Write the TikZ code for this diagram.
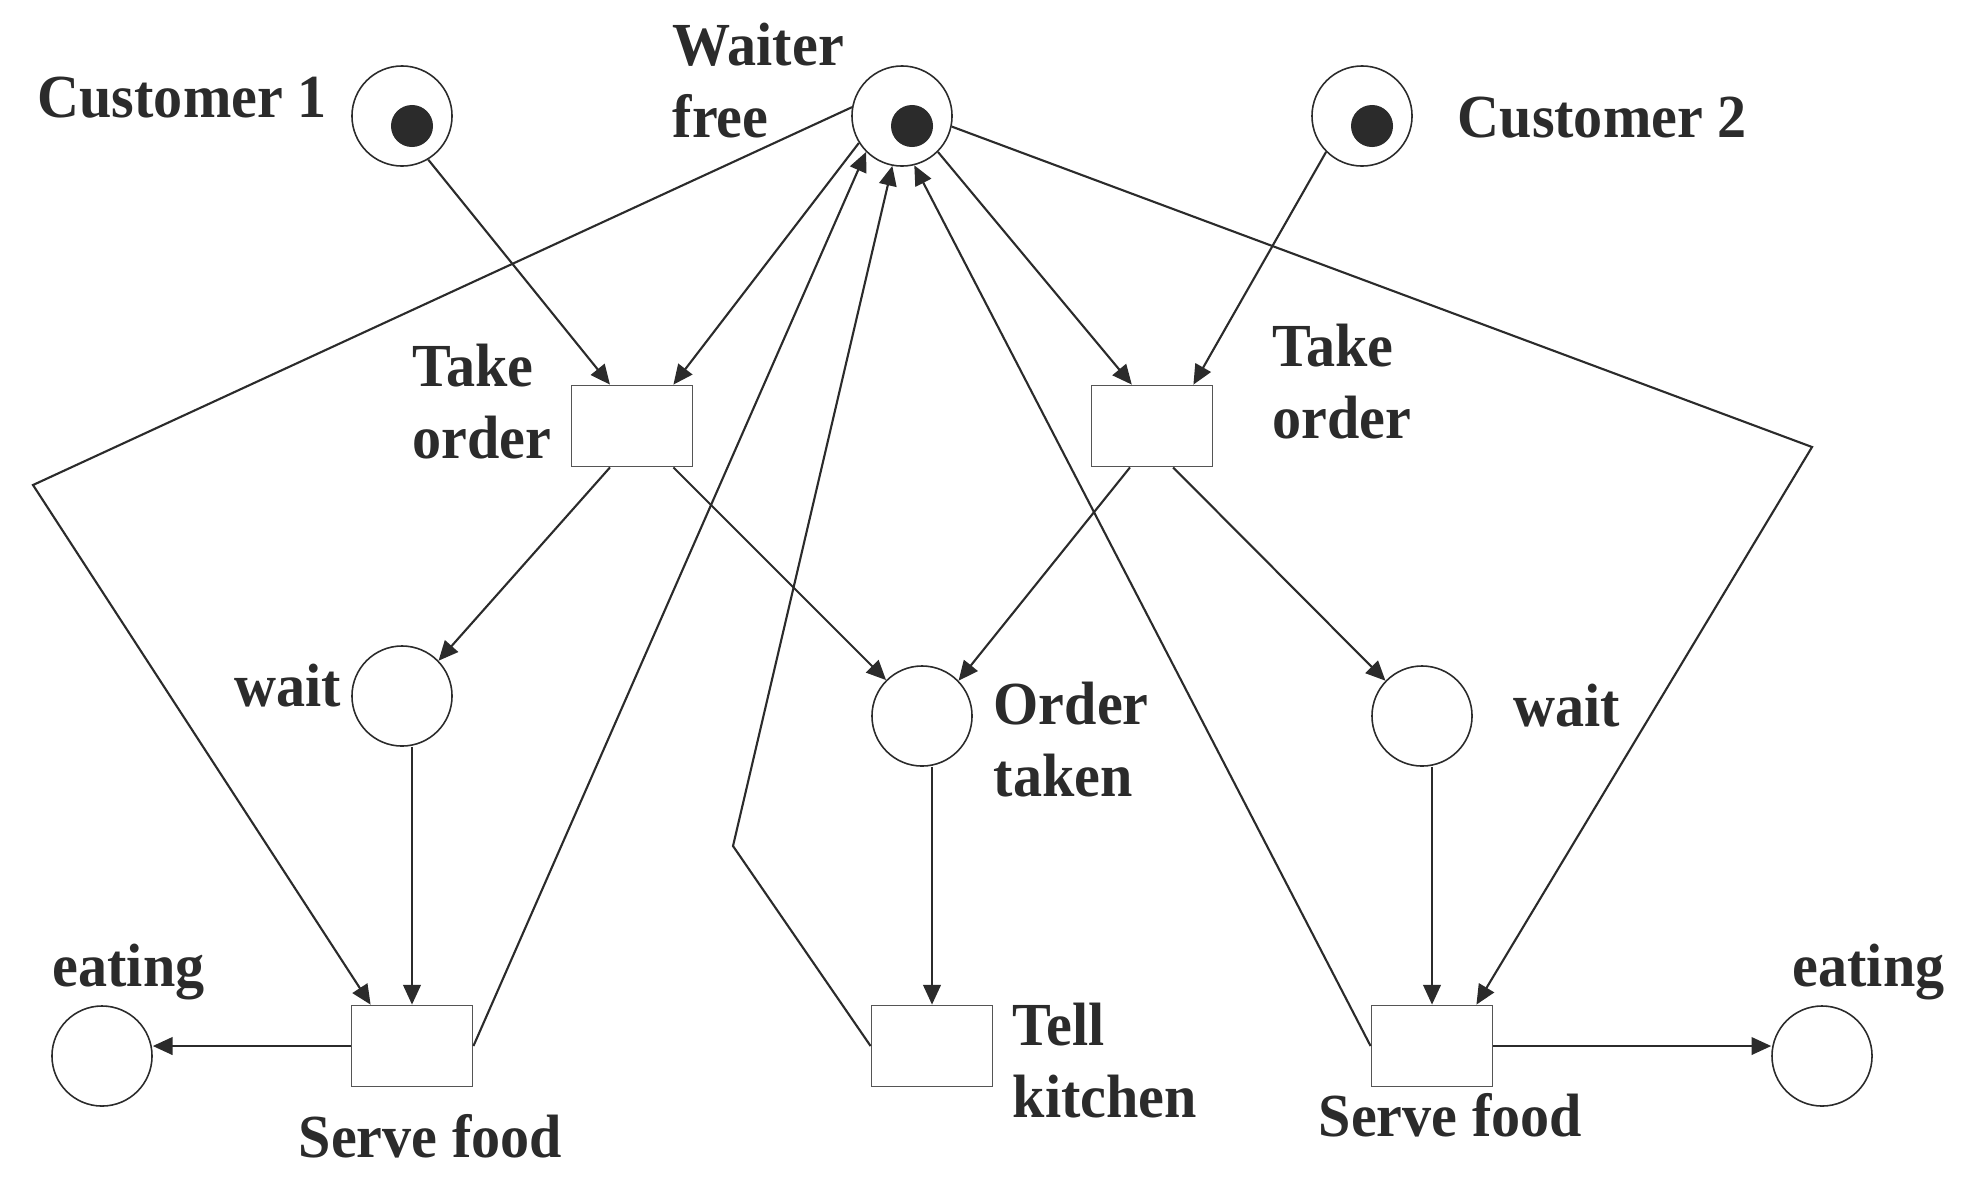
\documentclass[tikz,border=0pt]{standalone}
\usepackage{fontspec}
\setmainfont{Liberation Serif}[FakeStretch=0.95]
\usetikzlibrary{arrows.meta}
\definecolor{ink}{RGB}{43,43,43}
\definecolor{boxline}{RGB}{85,85,85}
\begin{document}
\begin{tikzpicture}[x=0.01cm,y=-0.01cm,
		place/.style={draw=ink,line width=0.45pt,circle,minimum size=1cm,inner sep=0pt},
		token/.style={fill=ink,circle,minimum size=0.42cm,inner sep=0pt},
		transition/.style={draw=boxline,line width=0.5pt,rectangle,minimum width=1.21cm,minimum height=0.81cm,inner sep=0pt},
		lbl/.style={inner sep=0pt,anchor=base west,align=left,text=ink,font=\fontsize{17.4}{20.2}\selectfont\bfseries},
		arr/.style={draw=ink,line width=0.6pt,-{Stealth[inset=0pt,length=5.6pt,width=5pt]}},
		wire/.style={draw=ink,line width=0.5pt}]
	\useasboundingbox (0,0) rectangle (1980,1178);
	% places and tokens
	\node[place] (cust1) at (402,116) {};
	\node[place] (waiter) at (902,116) {};
	\node[place] (cust2) at (1362,116) {};
	\node[token] (tok1) at (412,126) {};
	\node[token] (tokw) at (912,126) {};
	\node[token] (tok2) at (1372,126) {};
	\node[place] (wait1) at (402,696) {};
	\node[place] (taken) at (922,716) {};
	\node[place] (wait2) at (1422,716) {};
	\node[place] (eat1) at (102,1056) {};
	\node[place] (eat2) at (1822,1056) {};
	% transitions
	\node[transition] (take1) at (632,426) {};
	\node[transition] (take2) at (1152,426) {};
	\node[transition] (serve1) at (412,1046) {};
	\node[transition] (tell) at (932,1046) {};
	\node[transition] (serve2) at (1432,1046) {};
	% labels (base = last line)
	\node[lbl] (lcust1) at (37,117) {Customer 1};
	\node[lbl] (lwaiter) at (672,137) {Waiter\\free};
	\node[lbl] (lcust2) at (1457,137) {Customer 2};
	\node[lbl] (ltake1) at (412,458) {Take\\order};
	\node[lbl] (ltake2) at (1272,438) {Take\\order};
	\node[lbl] (lwait1) at (234,706) {wait};
	\node[lbl] (ltaken) at (993,796) {Order\\taken};
	\node[lbl] (lwait2) at (1513,726) {wait};
	\node[lbl] (leat1) at (52,986) {eating};
	\node[lbl] (leat2) at (1792,986) {eating};
	\node[lbl] (lserve1) at (298,1157) {Serve food};
	\node[lbl] (ltell) at (1012,1117) {Tell\\kitchen};
	\node[lbl] (lserve2) at (1318,1136) {Serve food};
	% bends
	\coordinate (bendL) at (33,485);
	\coordinate (bendR) at (1812,447);
	\coordinate (bendK) at (733,846);
	% arcs
	\draw[arr] (cust1.-59) -- (take1.118);
	\draw[arr] (waiter.212) -- (take1.45);
	\draw[arr] (waiter.-45) -- (take2.116);
	\draw[arr] (cust2.-135) -- (take2.45);
	\draw[arr] (take1.-118) -- (wait1.44);
	\draw[arr] (take1.-45) -- (taken.135);
	\draw[arr] (take2.-118) -- (taken.44);
	\draw[arr] (take2.-63) -- (wait2.136);
	\draw[arr] (wait1.south -| serve1.north) -- (serve1.north);
	\draw[arr] (taken.south -| tell.north) -- (tell.north);
	\draw[arr] (wait2.south -| serve2.north) -- (serve2.north);
	\draw[arr] (serve1.west) -- (serve1.west -| eat1.east);
	\draw[arr] (serve2.east) -- (serve2.east -| eat2.west);
	\draw[wire,arr] (waiter.170) -- (bendL) -- (serve1.135);
	\draw[wire,arr] (waiter.-12) -- (bendR) -- (serve2.43);
	\draw[wire,arr] (tell.west) -- (bendK) -- (waiter.-101);
	\draw[arr] (serve1.east) -- (waiter.225);
	\draw[arr] (serve2.west) -- (waiter.-76);
\end{tikzpicture}
\end{document}
